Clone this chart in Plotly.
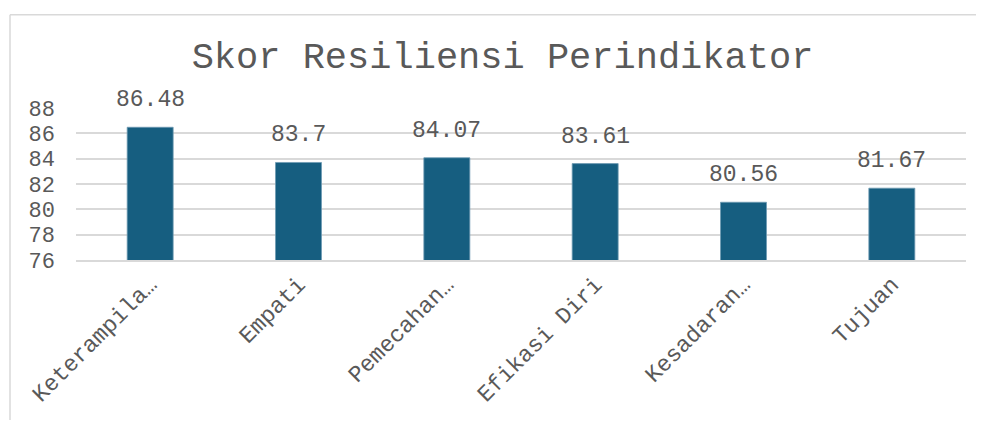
import plotly.graph_objects as go

# data
categories = ["Keterampila…", "Empati", "Pemecahan…", "Efikasi Diri", "Kesadaran…", "Tujuan"]
scores = [86.48, 83.7, 84.07, 83.61, 80.56, 81.67]
y_ticks = [76, 78, 80, 82, 84, 86, 88]

FONT = "Courier New, Liberation Mono, monospace"
GREY = "#595959"
GRID = "#d9d9d9"
BAR = "#165e80"

OFF = 8  # page body margin pushes the plot down/right
# keep the figure inside the window so no scrollbar shows up
W, H = 984 - OFF, 429 - 2 * OFF - 1
L, T = 76 - OFF, 108 - OFF
R, B = W - (966 - OFF), H - (263 - OFF)

fig = go.Figure(
    go.Bar(
        x=categories,
        y=scores,
        marker=dict(color=BAR, line=dict(color="#6f9bb3", width=0.8)),
        hoverinfo="x+y",
    )
)

# value labels sit well above the bars, as in the original
for cat, val in zip(categories, scores):
    fig.add_annotation(
        x=cat, y=val, text=f"{val:g}", showarrow=False,
        yanchor="bottom", yshift=12,
        font=dict(family=FONT, size=23, color=GREY),
    )

# outer chart frame (top and left edges are visible in the reference)
pw, ph = W - L - R, H - T - B
fx = (10 - OFF - L) / pw
fy = (H - B - (13 - OFF)) / ph
frame = dict(type="line", xref="paper", yref="paper", line=dict(color=GRID, width=1.5))
fig.add_shape(**frame, x0=fx, y0=fy, x1=(W + 20 - L) / pw, y1=fy)
fig.add_shape(**frame, x0=fx, y0=fy, x1=fx, y1=-(B + 20) / ph)

fig.update_layout(
    width=W,
    height=H,
    margin=dict(l=L, r=R, t=T, b=B),
    paper_bgcolor="white",
    plot_bgcolor="white",
    bargap=0.69,
    showlegend=False,
    title=dict(
        text="Skor Resiliensi Perindikator",
        x=((192 + 813) / 2 - OFF) / W, xanchor="center",
        y=1 - (55 - OFF) / H, yanchor="middle",
        font=dict(family=FONT, size=37, color=GREY),
    ),
    xaxis=dict(
        tickangle=-45,
        tickfont=dict(family=FONT, size=23, color=GREY),
        showline=True, linecolor=GRID, linewidth=1.5,
        showgrid=False, ticks="",
        ticklabelstandoff=0,
    ),
    yaxis=dict(
        range=[76, 88],
        tickvals=y_ticks,
        tickfont=dict(family=FONT, size=22, color=GREY),
        showgrid=True, gridcolor=GRID, gridwidth=1.5,
        zeroline=False, showline=False, ticks="",
        ticklabelstandoff=20,
    ),
)

fig.write_html("out.html")
